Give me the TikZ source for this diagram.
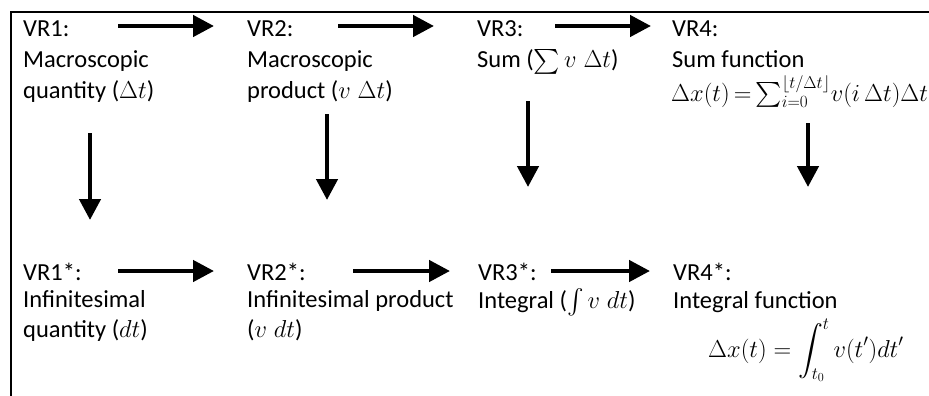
\documentclass[tikz,border=0pt]{standalone}
\usepackage{fix-cm}
\usepackage{amsmath}
\usepackage{fontspec}
\setmainfont{Carlito}
\usetikzlibrary{arrows.meta}
\tikzset{
  txt/.style={anchor=base west, inner sep=0pt, align=left, font=\fontsize{24.5}{30}\selectfont},
  arr/.style={line width=4.5pt, -{Triangle[length=21pt, width=21pt]}},
  frame/.style={line width=2.3pt}
}
\begin{document}
\begin{tikzpicture}[x=1pt,y=-1pt]
\useasboundingbox (0,0) rectangle (929,396);
\draw[frame] (11,400) -- (11,12) -- (932,12);
% top row
\node[txt] (h1) at (23,37) {VR1:};
\node[txt] (b1) at (23,98) {Macroscopic\\quantity ($\Delta t$)};
\node[txt] (h2) at (247,37) {VR2:};
\node[txt] (b2) at (247,98) {Macroscopic\\product ($v\;\Delta t$)};
\node[txt] (h3) at (477,37) {VR3:};
\node[txt] (b3) at (477,68) {Sum ($\sum v\;\Delta t$)};
\node[txt] (h4) at (672,37) {VR4:};
\node[txt] (b4) at (672,68) {Sum function};
\node[txt] (f4) at (671,101) {\thickmuskip=3mu\medmuskip=2mu$\Delta x(t)=\sum_{i=0}^{\lfloor t/\Delta t\rfloor}\! v(i\,\Delta t)\Delta t$};
% bottom row
\node[txt] (g1) at (23,280) {VR1*:};
\node[txt] (c1) at (23,337) {Infinitesimal\\quantity ($dt$)};
\node[txt] (g2) at (247,280) {VR2*:};
\node[txt] (c2) at (247,337) {Infinitesimal product\\($v\;dt$)};
\node[txt] (g3) at (478,280) {VR3*:};
\node[txt] (c3) at (478,308) {Integral ($\int v\;dt$)};
\node[txt] (g4) at (673,280) {VR4*:};
\node[txt] (c4) at (673,308) {Integral function};
\node[txt] (f5) at (708,357) {$\displaystyle \Delta x(t)=\int_{t_0}^{t} v(t')dt'$};
% horizontal arrows
\coordinate (a1s) at (118,26); \coordinate (a1e) at (214,26);
\coordinate (a2s) at (338,26); \coordinate (a2e) at (434,26);
\coordinate (a3s) at (555,26); \coordinate (a3e) at (651,26);
\coordinate (b1s) at (118,271); \coordinate (b1e) at (214,271);
\coordinate (b2s) at (353,271); \coordinate (b2e) at (450,271);
\coordinate (b3s) at (551,271); \coordinate (b3e) at (650,271);
\draw[arr] (a1s) -- (a1e);
\draw[arr] (a2s) -- (a2e);
\draw[arr] (a3s) -- (a3e);
\draw[arr] (b1s) -- (b1e);
\draw[arr] (b2s) -- (b2e);
\draw[arr] (b3s) -- (b3e);
% vertical arrows
\coordinate (v1s) at (90,133); \coordinate (v1e) at (90,220);
\coordinate (v2s) at (327,114); \coordinate (v2e) at (327,200);
\coordinate (v3s) at (528,101); \coordinate (v3e) at (528,187);
\coordinate (v4s) at (808,123); \coordinate (v4e) at (808,187);
\draw[arr] (v1s) -- (v1e);
\draw[arr] (v2s) -- (v2e);
\draw[arr] (v3s) -- (v3e);
\draw[arr] (v4s) -- (v4e);
\end{tikzpicture}
\end{document}
